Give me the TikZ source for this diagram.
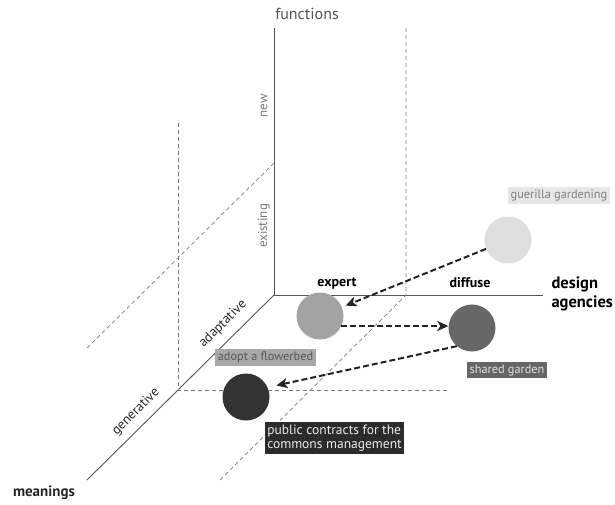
\documentclass[tikz,border=0pt]{standalone}
\usepackage{fontspec}
\setmainfont{PT Sans}
\usetikzlibrary{arrows.meta,calc}
\definecolor{axisgray}{HTML}{555555}
\definecolor{guidegray}{HTML}{7A7A7A}
\definecolor{flowcol}{HTML}{222222}
\definecolor{cguer}{HTML}{DEDEDE}
\definecolor{cexp}{HTML}{A3A3A3}
\definecolor{cshared}{HTML}{676767}
\definecolor{cpublic}{HTML}{333333}
\definecolor{bguer}{HTML}{E6E6E6}
\definecolor{badopt}{HTML}{A8A8A8}
\definecolor{bshared}{HTML}{666666}
\definecolor{bpublic}{HTML}{2B2B2B}
\begin{document}
\begin{tikzpicture}[x=1pt,y=-1pt,
  axis/.style={draw=axisgray,line width=0.9pt},
  guide/.style={draw=guidegray,line width=0.7pt,dash pattern=on 4pt off 3pt},
  flow/.style={draw=flowcol,line width=2pt,dash pattern=on 6pt off 3pt,
    -{Stealth[length=11pt,width=10pt,inset=3pt]}},
  dot/.style={circle,minimum size=47pt,inner sep=0pt},
  tag/.style={inner sep=2.5pt,font=\fontsize{12.3}{14}\selectfont},
  axlab/.style={text=axisgray,font=\fontsize{16}{18}\selectfont},
  sublab/.style={text=guidegray,font=\fontsize{13}{15}\selectfont},
  difflab/.style={text=black!85,font=\fontsize{13.5}{15}\selectfont},
  agent/.style={text=black,font=\bfseries\fontsize{14}{16}\selectfont},
]
\useasboundingbox (0,0) rectangle (615,505);
% axes
\coordinate (O) at (274,295);
\coordinate (Ftop) at (274,28);
\coordinate (Aend) at (543,295);
\coordinate (Mend) at (87,480);
\draw[axis] (Ftop) -- (O) -- (Aend);
\draw[axis] (O) -- (Mend);
% guides
\coordinate (g1) at (406,28);
\coordinate (g2) at (406,295);
\coordinate (g3) at (218,482);
\coordinate (g4) at (178,123);
\coordinate (g5) at (178,390);
\coordinate (g6) at (447,390);
\coordinate (g7) at (274,163);
\coordinate (g8) at (87,348);
\draw[guide] (g1) -- (g2) -- (g3);
\draw[guide] (g4) -- (g5) -- (g6);
\draw[guide] (g7) -- (g8);
% axis labels
\node[axlab] (lf) at (307,14) {functions};
\node[sublab,rotate=90] (lnew) at (264,106) {new};
\node[sublab,rotate=90] (lex) at (264,226) {existing};
\node[agent] (lexp) at (337,283) {expert};
\node[agent] (ldif) at (470,283) {diffuse};
\node[agent,font=\bfseries\fontsize{16.5}{18.5}\selectfont,align=left,anchor=west] (lda) at (548,294) {design\\agencies};
\node[difflab,rotate=45] (lad) at (223,324) {adaptative};
\node[difflab,rotate=45] (lgen) at (136,412) {generative};
\node[text=black!85,font=\bfseries\fontsize{15}{17}\selectfont] (lm) at (44,493) {meanings};
% circles
\node[dot,fill=cguer] (g) at (508,240) {};
\node[dot,fill=cexp] (e) at (320,316) {};
\node[dot,fill=cshared] (s) at (472,328) {};
\node[dot,fill=cpublic] (p) at (246,397) {};
% tags
\node[tag,fill=bguer,text=black!50] (tg) at (559,195.5) {guerilla gardening};
\node[tag,fill=badopt,text=black!65] (ta) at (265.5,357.5) {adopt a flowerbed};
\node[tag,fill=bshared,text=black!12] (ts) at (507,370) {shared garden};
\node[tag,fill=bpublic,text=black!8,align=left,font=\fontsize{13.5}{14}\selectfont] (tp) at (334.5,438) {public contracts for the\\commons management};
% flows
\draw[flow,shorten >=4pt] (g) -- (e);
\draw[flow] (e.-25) -- (e.-25 -| s.west);
\draw[flow,shorten >=9pt] (s.230) -- (p.24);
\end{tikzpicture}
\end{document}
